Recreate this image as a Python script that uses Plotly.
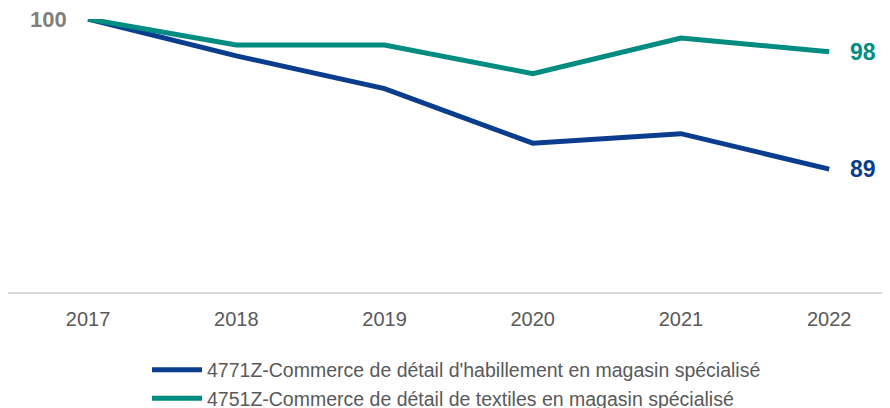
import plotly.graph_objects as go

years = [2017, 2018, 2019, 2020, 2021, 2022]
habillement = [100, 97.3, 94.9, 90.9, 91.6, 89.0]
textiles = [100, 98.1, 98.1, 96.0, 98.6, 97.6]
name_hab = "4771Z-Commerce de détail d'habillement en magasin spécialisé"
name_tex = "4751Z-Commerce de détail de textiles en magasin spécialisé"
navy = "#0B3D8E"
teal = "#008C80"
grey = "#595959"

fig = go.Figure()
fig.add_trace(go.Scatter(x=years, y=habillement, mode="lines", name=name_hab,
                         line=dict(color=navy, width=5), cliponaxis=False))
fig.add_trace(go.Scatter(x=years, y=textiles, mode="lines", name=name_tex,
                         line=dict(color=teal, width=5), cliponaxis=False))

fig.add_annotation(x=years[0], y=textiles[0], text="<b>100</b>", showarrow=False,
                   xanchor="right", xshift=-19, font=dict(size=22, color="#7F7F7F"))
fig.add_annotation(x=years[-1], y=textiles[-1], text="<b>%d</b>" % round(textiles[-1]),
                   showarrow=False, xanchor="left", xshift=19, font=dict(size=23, color=teal))
fig.add_annotation(x=years[-1], y=habillement[-1], text="<b>%d</b>" % round(habillement[-1]),
                   showarrow=False, xanchor="left", xshift=19, font=dict(size=23, color=navy))

fig.update_layout(
    width=882, height=400,
    margin=dict(l=0, r=0, t=11, b=116, autoexpand=False),
    paper_bgcolor="white", plot_bgcolor="white",
    font=dict(family="Liberation Sans, Arial, sans-serif", color=grey, size=20),
    xaxis=dict(range=[2016.46, 2022.41], tickvals=years, ticktext=[str(y) for y in years],
               showgrid=False, zeroline=False, showline=True, linecolor="#D9D9D9",
               linewidth=2, ticks="", ticklabelstandoff=8, tickfont=dict(size=20, color=grey)),
    yaxis=dict(range=[80, 100], visible=False),
    legend=dict(orientation="v", x=0.1576, xanchor="left", y=-0.2147, yanchor="top",
                itemwidth=50, font=dict(size=19.5, color=grey), bgcolor="rgba(0,0,0,0)"),
    showlegend=True,
)

fig.write_html("out.html")
